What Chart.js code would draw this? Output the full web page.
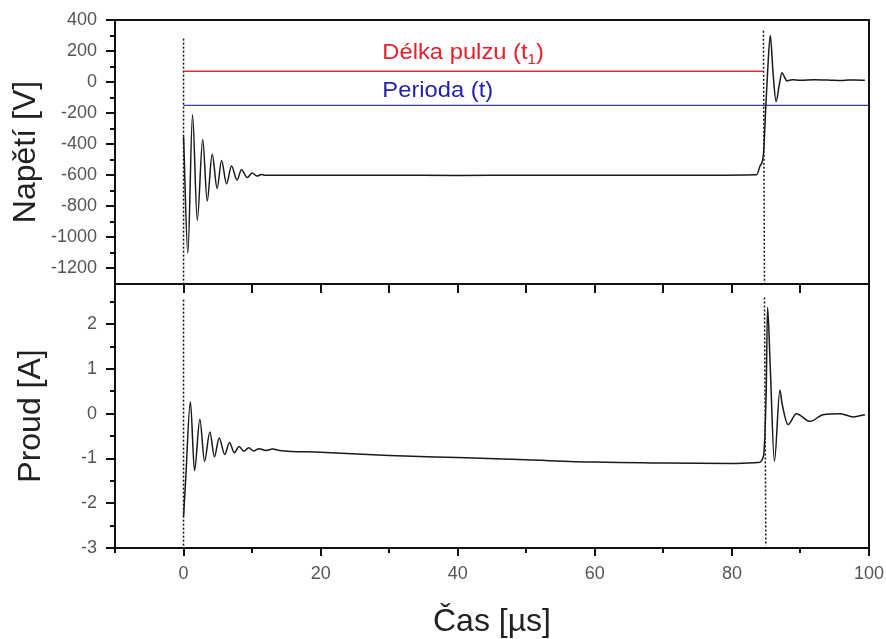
<!DOCTYPE html>
<html>
<head>
<meta charset="utf-8">
<script src="https://cdn.jsdelivr.net/npm/chart.js@4.4.1/dist/chart.umd.min.js"></script>
<style>
html,body{margin:0;padding:0;background:#fff;}
canvas{display:block;}
</style>
</head>
<body>
<canvas id="c" width="886" height="639"></canvas>
<script>
// ---- data ----
const voltageTime  = [0, 0.63, 1.31, 2.0, 2.8, 3.45, 4.18, 4.9, 5.54, 6.27, 7.0, 7.8, 8.45, 9.3, 10.0, 10.7, 11.4, 12.0, 20, 30, 40, 50, 56, 65, 75, 83.6, 84.1, 84.6, 84.9, 85.2, 85.6, 86.0, 86.45, 86.9, 87.3, 87.7, 88.0, 88.8, 90, 92, 94, 95, 96, 97, 98, 99.4];
const voltageValue = [-350, -1100, -210, -890, -370, -765, -465, -685, -505, -655, -540, -630, -565, -615, -585, -605, -595, -600, -600, -600, -601, -600, -600, -600, -600, -597, -540, -465, -200, 60, 300, 60, -125, -20, 60, 30, 8, 15, 12, 15, 13, 12, 10, 14, 13, 12];

const currentTime  = [0, 0.3, 1.0, 1.6, 2.38, 3.06, 3.84, 4.5, 5.2, 6.0, 6.7, 7.4, 8.1, 8.8, 9.5, 10.2, 11, 12, 13, 14, 20, 30, 40, 50, 60, 70, 80, 83.8, 84.6, 85.0, 85.2, 85.6, 86.2, 87.0, 87.3, 88.2, 89.4, 91.4, 93.3, 95.8, 97.7, 99.4];
const currentValue = [-2.3, -1.5, 0.27, -1.27, -0.12, -1.06, -0.41, -0.96, -0.54, -0.91, -0.64, -0.87, -0.73, -0.84, -0.76, -0.83, -0.78, -0.82, -0.79, -0.82, -0.86, -0.93, -0.98, -1.03, -1.08, -1.10, -1.11, -1.09, -0.95, 0.5, 2.38, 1.02, -1.06, 0.53, 0.24, -0.24, 0.0, -0.17, -0.02, 0.0, -0.07, -0.02];

// horizontal reference lines (top panel)
const pulseLineTime  = [0, 84.6];
const pulseLineLevel = [70, 70];
const periodLineTime  = [0, 100];
const periodLineLevel = [-150, -150];

// dotted vertical markers
const marker1TopTime = [0, 0];
const marker1Voltage = [280, -1300];
const marker1BotTime = [0, 0];
const marker1Current = [2.55, -3];
const marker2TopTime = [84.6, 84.75];
const marker2Voltage = [330, -1300];
const marker2BotTime = [84.75, 84.95];
const marker2Current = [2.6, -2.95];

// texts
const pulseLabel  = 'Délka pulzu (t';
const pulseSub    = '1';
const periodLabel = 'Perioda (t)';
const labelTime = 29;
const pulseLabelLevel = 150;
const periodLabelLevel = -95;

// ticks
const xTicks = [0, 20, 40, 60, 80, 100];
const xMinorTicks = [-10, 10, 30, 50, 70, 90];
const voltageTicks = [400, 200, 0, -200, -400, -600, -800, -1000, -1200];
const voltageMinorTicks = [300, 100, -100, -300, -500, -700, -900, -1100];
const currentTicks = [2, 1, 0, -1, -2, -3];
const currentMinorTicks = [2.5, 1.5, 0.5, -0.5, -1.5, -2.5];

const FONT = '"Liberation Sans", Arial, Helvetica, sans-serif';
const pts = (xs, ys) => xs.map((x, i) => ({x: x, y: ys[i]}));

const framePlugin = {
  id: 'frame',
  afterDraw(chart) {
    const ctx = chart.ctx, a = chart.chartArea;
    const x = chart.scales.x, y1 = chart.scales.y1, y2 = chart.scales.y2;
    ctx.save();
    ctx.strokeStyle = '#111';
    ctx.lineWidth = 2;
    ctx.strokeRect(a.left, y1.top, a.right - a.left, y1.bottom - y1.top);
    ctx.strokeRect(a.left, y2.top, a.right - a.left, y2.bottom - y2.top);
    ctx.beginPath();
    const tickY = (s, vals, len) => vals.forEach(v => {
      const p = Math.round(s.getPixelForValue(v));
      ctx.moveTo(a.left - len, p); ctx.lineTo(a.left, p);
    });
    const tickX = (vals, y0, len) => vals.forEach(v => {
      const p = Math.round(x.getPixelForValue(v));
      ctx.moveTo(p, y0); ctx.lineTo(p, y0 + len);
    });
    tickY(y1, voltageTicks, 9); tickY(y1, voltageMinorTicks, 5);
    tickY(y2, currentTicks, 9); tickY(y2, currentMinorTicks, 5);
    tickX(xTicks, a.bottom, 8); tickX(xMinorTicks, a.bottom, 5);
    tickX(xTicks, y1.bottom, 9); tickX(xMinorTicks, y1.bottom, 9);
    ctx.stroke();
    ctx.restore();
  }
};

const textPlugin = {
  id: 'texts',
  afterDatasetsDraw(chart) {
    const ctx = chart.ctx;
    const x = chart.scales.x, y1 = chart.scales.y1;
    const sx = 1.08;
    ctx.save();
    ctx.textBaseline = 'alphabetic';
    ctx.textAlign = 'left';
    let px = x.getPixelForValue(labelTime);
    let py = y1.getPixelForValue(pulseLabelLevel);
    ctx.translate(px, py);
    ctx.scale(sx, 1);
    ctx.fillStyle = '#e3202c';
    ctx.font = '22px ' + FONT;
    ctx.fillText(pulseLabel, 0, 0);
    let w = ctx.measureText(pulseLabel).width;
    ctx.font = '14px ' + FONT;
    ctx.fillText(pulseSub, w, 5);
    w += ctx.measureText(pulseSub).width;
    ctx.font = '22px ' + FONT;
    ctx.fillText(')', w, 0);
    ctx.restore();

    ctx.save();
    py = y1.getPixelForValue(periodLabelLevel);
    ctx.translate(px, py);
    ctx.scale(sx, 1);
    ctx.fillStyle = '#2323b0';
    ctx.font = '22px ' + FONT;
    ctx.textBaseline = 'alphabetic';
    ctx.fillText(periodLabel, 0, 0);
    ctx.restore();
  }
};

const traceStyle = {pointRadius: 0, borderColor: '#1a1a1a', borderWidth: 1.5, fill: false, cubicInterpolationMode: 'monotone'};
const dotStyle = {pointRadius: 0, borderColor: '#111', borderWidth: 1.5, borderDash: [2, 2], fill: false};

const yFit = s => { s.width = 115; s.paddingTop = 0; s.paddingBottom = 0; };
const tickFont = {size: 18, family: FONT};

new Chart(document.getElementById('c'), {
  type: 'line',
  data: {
    datasets: [
      Object.assign({label: 'Napětí', data: pts(voltageTime, voltageValue), yAxisID: 'y1'}, traceStyle),
      Object.assign({label: 'Proud', data: pts(currentTime, currentValue), yAxisID: 'y2'}, traceStyle),
      {label: 'Délka pulzu', data: pts(pulseLineTime, pulseLineLevel), yAxisID: 'y1', pointRadius: 0, borderColor: '#d8303f', borderWidth: 1.3},
      {label: 'Perioda', data: pts(periodLineTime, periodLineLevel), yAxisID: 'y1', pointRadius: 0, borderColor: '#3b3ba3', borderWidth: 1.3},
      Object.assign({label: 'm1a', data: pts(marker1TopTime, marker1Voltage), yAxisID: 'y1'}, dotStyle),
      Object.assign({label: 'm1b', data: pts(marker1BotTime, marker1Current), yAxisID: 'y2'}, dotStyle),
      Object.assign({label: 'm2a', data: pts(marker2TopTime, marker2Voltage), yAxisID: 'y1'}, dotStyle),
      Object.assign({label: 'm2b', data: pts(marker2BotTime, marker2Current), yAxisID: 'y2'}, dotStyle)
    ]
  },
  options: {
    responsive: false,
    animation: false,
    layout: {padding: {top: 20, right: 17, left: 0, bottom: 0}},
    plugins: {legend: {display: false}, tooltip: {enabled: false}},
    scales: {
      x: {
        type: 'linear', min: -10, max: 100,
        afterBuildTicks: s => { s.ticks = xTicks.map(v => ({value: v})); },
        afterFit: s => { s.height = 91; s.paddingLeft = 0; s.paddingRight = 0; },
        grid: {display: false, drawTicks: false},
        border: {display: false},
        ticks: {font: tickFont, color: '#555', padding: 15, autoSkip: false, maxRotation: 0, callback: v => String(v)},
        title: {display: true, text: 'Čas [µs]', font: {size: 32, family: FONT, lineHeight: 1}, color: '#222', padding: {top: 0, bottom: 1}}
      },
      y2: {
        type: 'linear', position: 'left', stack: 'panels', stackWeight: 1, min: -3, max: 2.9,
        afterBuildTicks: s => { s.ticks = currentTicks.map(v => ({value: v})); },
        afterFit: yFit,
        grid: {display: false, drawTicks: false},
        border: {display: false},
        ticks: {font: tickFont, color: '#555', padding: 18, autoSkip: false, callback: v => String(v)},
        title: {display: true, text: 'Proud [A]', font: {size: 32, family: FONT, lineHeight: 1}, color: '#222', padding: {top: 15, bottom: 0}}
      },
      y1: {
        type: 'linear', position: 'left', stack: 'panels', stackWeight: 1, min: -1300, max: 400,
        afterBuildTicks: s => { s.ticks = voltageTicks.map(v => ({value: v})); },
        afterFit: yFit,
        grid: {display: false, drawTicks: false},
        border: {display: false},
        ticks: {font: tickFont, color: '#555', padding: 18, autoSkip: false, callback: v => String(v)},
        title: {display: true, text: 'Napětí [V]', font: {size: 32, family: FONT, lineHeight: 1}, color: '#222', padding: {top: 10, bottom: 0}}
      }
    }
  },
  plugins: [framePlugin, textPlugin]
});
</script>
</body>
</html>
